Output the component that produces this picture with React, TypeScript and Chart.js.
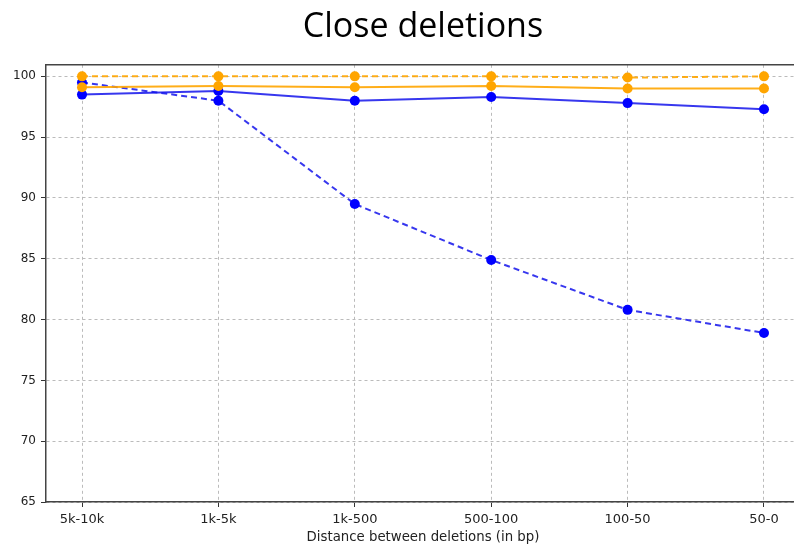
import React, { useEffect, useRef } from "react";
import { Chart, registerables } from "chart.js";

Chart.register(...registerables);

const categories = ["5k-10k", "1k-5k", "1k-500", "500-100", "100-50", "50-0"];
const blueSolid = [98.5, 98.8, 98.0, 98.3, 97.8, 97.3];
const blueDashed = [99.5, 98.0, 89.5, 84.9, 80.8, 78.9];
const orangeSolid = [99.1, 99.2, 99.1, 99.2, 99.0, 99.0];
const orangeDashed = [100.0, 100.0, 100.0, 100.0, 99.9, 100.0];
const yTicks = [65, 70, 75, 80, 85, 90, 95, 100];

const TITLE_FONT = "'Open Sans', 'Noto Sans', sans-serif";
const FONT = "'DejaVu Sans', sans-serif";
const CANVAS_W = 805;

const topBorder = {
  id: "topBorder",
  afterDraw(chart: any) {
    const { ctx, chartArea } = chart;
    ctx.save();
    ctx.strokeStyle = "#444";
    ctx.lineWidth = 1.5;
    ctx.beginPath();
    ctx.moveTo(chartArea.left, chartArea.top);
    ctx.lineTo(chartArea.right, chartArea.top);
    ctx.stroke();
    ctx.restore();
  },
};

export default function App() {
  const ref = useRef<HTMLCanvasElement>(null);
  useEffect(() => {
    if (!ref.current) return;
    const mk = (vals: number[]) => vals.map((v, i) => ({ x: i, y: v }));
    const chart = new Chart(ref.current, {
      type: "line",
      data: {
        datasets: [
          { data: mk(blueSolid), borderColor: "rgba(20,20,235,0.85)", backgroundColor: "#0000ff", borderWidth: 2, pointRadius: 5, pointBorderWidth: 0, order: 3 },
          { data: mk(blueDashed), borderColor: "rgba(20,20,235,0.85)", backgroundColor: "#0000ff", borderWidth: 2, borderDash: [6, 4], pointRadius: 5, pointBorderWidth: 0, order: 2 },
          { data: mk(orangeSolid), borderColor: "rgba(255,165,0,0.9)", backgroundColor: "#ffa500", borderWidth: 2, pointRadius: 5, pointBorderWidth: 0, order: 1 },
          { data: mk(orangeDashed), borderColor: "rgba(255,165,0,0.9)", backgroundColor: "#ffa500", borderWidth: 2, borderDash: [6, 4], pointRadius: 5, pointBorderWidth: 0, order: 0 },
        ],
      },
      options: {
        animation: false,
        responsive: false,
        maintainAspectRatio: false,
        layout: { padding: 0 },
        plugins: {
          legend: { display: false },
          tooltip: { enabled: false },
          title: {
            display: true,
            fullSize: false,
            text: "Close deletions",
            color: "#000",
            font: { family: TITLE_FONT, size: 34, weight: "normal" },
            padding: { top: 7, bottom: 17 },
          },
        },
        scales: {
          x: {
            type: "linear",
            min: -0.264,
            max: 5.264,
            afterBuildTicks: (s: any) => {
              s.ticks = categories.map((_, i) => ({ value: i }));
            },
            afterFit: (s: any) => {
              s.height = 42;
              s.paddingRight = 0;
              s.paddingLeft = 0;
            },
            ticks: {
              callback: (v: any) => categories[v as number] ?? "",
              color: "#222",
              font: { family: FONT, size: 13 },
              padding: 5,
              maxRotation: 0,
              autoSkip: false,
            },
            grid: { color: "#bbb", lineWidth: 1, tickLength: 5, tickColor: "#333" },
            border: { color: "#444", width: 1.5, dash: [3, 3] } as any,
            title: {
              display: true,
              text: "Distance between deletions (in bp)",
              color: "#222",
              font: { family: FONT, size: 13.3 },
              padding: { top: 0, bottom: -2 },
            },
          },
          y: {
            type: "linear",
            min: 65,
            max: 100.95,
            afterBuildTicks: (s: any) => {
              s.ticks = yTicks.map((v) => ({ value: v }));
            },
            afterFit: (s: any) => {
              s.width = 46;
            },
            ticks: { color: "#222", font: { family: FONT, size: 12 }, padding: 5 },
            grid: { color: "#bbb", lineWidth: 1, tickLength: 5, tickColor: "#333" },
            border: { color: "#444", width: 1.5, dash: [3, 3] } as any,
          },
        },
      } as any,
      plugins: [topBorder],
    });
    return () => chart.destroy();
  }, []);
  return (
    <div style={{ position: "fixed", left: 0, top: 0, width: 794, height: 544, background: "#fff", overflow: "hidden" }}>
      <canvas ref={ref} width={CANVAS_W} height={544} style={{ width: CANVAS_W, height: 544, display: "block" }} />
    </div>
  );
}
